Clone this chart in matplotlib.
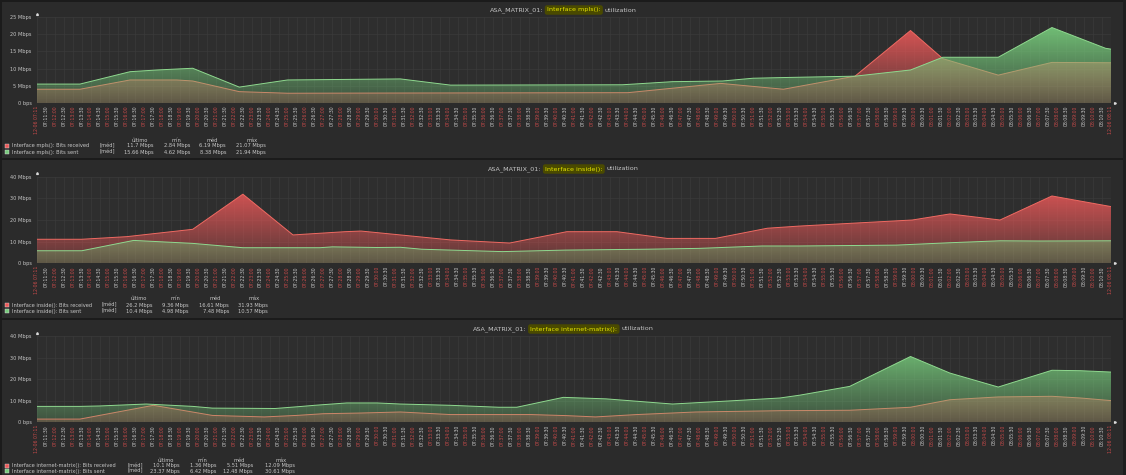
import numpy as np
import matplotlib
matplotlib.use("Agg")
import matplotlib.pyplot as plt
from matplotlib.patches import PathPatch, Rectangle

W, H = 1126, 475

# time in minutes after 12-06 07:11, values in Mbps
mpls_rx_t = [0, 2.4, 5.2, 7.8, 8.7, 11.3, 14, 20, 33, 38.2, 41.7, 45.7, 48.8, 50.6, 53.7, 56.7, 60]
mpls_rx = [4.0, 4.0, 6.7, 6.7, 6.4, 3.3, 2.84, 2.9, 3.0, 5.7, 4.0, 7.8, 21.07, 12.9, 8.1, 11.8, 11.7]
mpls_tx_t = [0, 2.4, 5.2, 6.7, 8.7, 11.3, 14, 20.3, 23.1, 32.7, 35.5, 38.3, 40, 41.7, 45.7, 48.8,
             50.6, 53.7, 56.7, 59.7, 60]
mpls_tx = [5.5, 5.5, 9.1, 9.6, 10.1, 4.62, 6.7, 7.0, 5.2, 5.3, 6.2, 6.4, 7.2, 7.4, 7.8, 9.6,
           13.3, 13.3, 21.94, 15.9, 15.66]

inside_rx_t = [0, 2.5, 5, 8.7, 11.5, 14.3, 17.2, 18.1, 20.3, 23.1, 26.4, 29.6, 32.4, 35.2, 37.9,
               40.8, 42.6, 48.9, 51, 53.8, 56.7, 60]
inside_rx = [11.1, 11.1, 12.3, 15.7, 31.93, 13.1, 14.6, 14.9, 13.1, 10.8, 9.36, 14.6, 14.6, 11.5, 11.5,
             16.2, 17.2, 20.0, 22.8, 20.0, 31.1, 26.2]
inside_tx_t = [0, 2.5, 5.4, 8.7, 11.5, 15.8, 16.5, 19, 20.3, 21.5, 26, 29.5, 34, 37, 40.5, 42.6,
               48, 51, 53.8, 56, 60]
inside_tx = [5.8, 5.8, 10.57, 9.2, 7.2, 7.2, 7.6, 7.3, 7.4, 6.5, 5.4, 6.1, 6.5, 6.9, 8.0, 8.0,
             8.4, 9.5, 10.4, 10.3, 10.4]

inet_rx_t = [0, 2.4, 6.5, 9.8, 11, 12.7, 14.5, 16, 18, 20.3, 23.1, 27.6, 29.6, 31.2, 33.5, 36.8,
             41.5, 45.4, 48.8, 51, 53.7, 56.7, 58.3, 60]
inet_rx = [1.5, 1.5, 7.9, 3.2, 2.9, 2.5, 3.2, 4.0, 4.3, 4.8, 3.6, 3.6, 3.1, 2.5, 3.6, 4.8,
           5.4, 5.6, 7.0, 10.5, 11.8, 12.09, 11.3, 10.1]
inet_tx_t = [0, 2.4, 3.5, 6.1, 8.7, 9.8, 13.3, 14.8, 15.5, 17.3, 19, 20.3, 23.1, 25.8, 26.8, 29.4,
             31.8, 35.5, 38.8, 41.5, 42.6, 45.4, 48.8, 51, 53.7, 56.7, 58.3, 60]
inet_tx = [7.4, 7.4, 7.6, 8.5, 7.4, 6.6, 6.42, 7.4, 7.9, 9.0, 9.0, 8.5, 7.9, 7.0, 7.0, 11.6,
           10.9, 8.5, 10.0, 11.3, 12.6, 16.7, 30.61, 22.9, 16.4, 24.2, 24.0, 23.37]

interfaces = ["mpls()", "inside()", "internet-matrix()"]
stat_headers = ["último", "mín", "méd", "máx"]
mpls_stats = [["11.7 Mbps", "2.84 Mbps", "6.19 Mbps", "21.07 Mbps"],
              ["15.66 Mbps", "4.62 Mbps", "8.38 Mbps", "21.94 Mbps"]]
inside_stats = [["26.2 Mbps", "9.36 Mbps", "16.61 Mbps", "31.93 Mbps"],
                ["10.4 Mbps", "4.98 Mbps", "7.48 Mbps", "10.57 Mbps"]]
inet_stats = [["10.1 Mbps", "1.36 Mbps", "5.51 Mbps", "12.09 Mbps"],
              ["23.37 Mbps", "6.42 Mbps", "12.48 Mbps", "30.61 Mbps"]]

ticks_small = [0, 5, 10, 15, 20, 25]
ticks_big = [0, 10, 20, 30, 40]

# x tick labels every 30 s from 07:11 to 08:11
xticks = [i * 0.5 for i in range(121)]
xlabels = []
for i in range(121):
    tot = 7 * 3600 + 11 * 60 + i * 30
    if i == 0 or i == 120:
        xlabels.append("12-06 %02d:%02d" % (tot // 3600, tot % 3600 // 60))
    else:
        xlabels.append("%02d:%02d:%02d" % (tot // 3600, tot % 3600 // 60, tot % 60))

BG = "#2b2b2b"
TXT = "#c6c6c6"
RED = (0.93, 0.35, 0.35)
GREEN = (0.47, 0.80, 0.49)

fig = plt.figure(figsize=(W / 100, H / 100), dpi=100, facecolor=BG)


def fx(px):
    return px / W


def fy(py):
    return 1 - py / H


def grad_fill(ax, t, v, rgb, ymax, z):
    poly = ax.fill_between(t, 0, v, facecolor="none", edgecolor="none")
    patch = PathPatch(poly.get_paths()[0], transform=ax.transData, facecolor="none", edgecolor="none")
    ax.add_patch(patch)
    n = 256
    img = np.zeros((n, 1, 4))
    img[..., :3] = rgb
    img[:, 0, 3] = np.linspace(0.22, 1.0, n)
    im = ax.imshow(img, extent=[0, 60, 0, ymax], origin="lower", aspect="auto",
                   interpolation="bilinear", zorder=z)
    im.set_clip_path(patch)


def fmt_y(v):
    return "0 bps" if v == 0 else "%d Mbps" % v


def title(py, iface):
    parts = [("ASA_MATRIX_01:", TXT, None), ("Interface %s:" % iface, "#e6e600", "#4a4a00"),
             ("utilization", TXT, None)]
    texts = []
    for s, c, bg in parts:
        t = fig.text(0, fy(py), s, color=c, fontsize=4.6, va="center", ha="left")
        if bg:
            t.set_bbox(dict(facecolor=bg, edgecolor="none", boxstyle="round,pad=0.35"))
        texts.append(t)
    r = fig.canvas.get_renderer()
    widths = [t.get_window_extent(r).width for t in texts]
    gap = 4
    x = W / 2 - (sum(widths) + gap * 2) / 2
    for t, w in zip(texts, widths):
        t.set_x(fx(x))
        x += w + gap


def legend(rows_y, iface, stats, xmed, ends):
    hy, y1, y2 = rows_y
    for e, h in zip(ends, stat_headers):
        fig.text(fx(e - 14), fy(hy), h, color=TXT, fontsize=3.7, ha="center", va="center")
    for yy, name, col, st in [(y1, "Bits received", RED, stats[0]), (y2, "Bits sent", GREEN, stats[1])]:
        fig.patches.append(Rectangle((fx(5), fy(yy + 2)), 4 / W, 4 / H, transform=fig.transFigure,
                                     facecolor=col, edgecolor="#dddddd", lw=0.3))
        fig.text(fx(12), fy(yy), "Interface %s: %s" % (iface, name), color=TXT, fontsize=3.7, va="center")
        fig.text(fx(xmed), fy(yy), "[méd]", color=TXT, fontsize=3.7, va="center")
        for e, s in zip(ends, st):
            fig.text(fx(e), fy(yy), s, color=TXT, fontsize=3.7, ha="right", va="center")


panels = [
    dict(top=17, bot=103, ymax=25, yt=ticks_small, rx=(mpls_rx_t, mpls_rx), tx=(mpls_tx_t, mpls_tx),
         ty=10, leg=(140, 146, 152), stats=mpls_stats, xmed=100, ends=[154, 190, 226, 266]),
    dict(top=176.7, bot=263.3, ymax=40, yt=ticks_big, rx=(inside_rx_t, inside_rx), tx=(inside_tx_t, inside_tx),
         ty=169, leg=(299, 305, 311), stats=inside_stats, xmed=102, ends=[153, 189, 229, 268]),
    dict(top=336.3, bot=422.3, ymax=40, yt=ticks_big, rx=(inet_rx_t, inet_rx), tx=(inet_tx_t, inet_tx),
         ty=329, leg=(460, 465.5, 471), stats=inet_stats, xmed=127, ends=[180, 216, 253, 295]),
]

for iface, p in zip(interfaces, panels):
    ax = fig.add_axes([fx(37), fy(p["bot"]), (1111 - 37) / W, (p["bot"] - p["top"]) / H])
    ax.set_facecolor("#2e2e2e")
    grad_fill(ax, p["rx"][0], p["rx"][1], RED, p["ymax"], 2)
    ax.plot(p["rx"][0], p["rx"][1], color="#f06a62", lw=0.7, zorder=3)
    grad_fill(ax, p["tx"][0], p["tx"][1], GREEN, p["ymax"], 4)
    ax.plot(p["tx"][0], p["tx"][1], color="#8fd98f", lw=0.7, zorder=5)
    ax.set_xlim(0, 60)
    ax.set_ylim(0, p["ymax"])
    ax.set_yticks(p["yt"])
    ax.set_yticklabels([fmt_y(v) for v in p["yt"]])
    ax.set_xticks(xticks)
    ax.set_xticklabels(xlabels, rotation=90, va="top", ha="center")
    for i, lab in enumerate(ax.get_xticklabels()):
        lab.set_color("#c84a4a" if i % 2 == 0 else "#c8c8c8")
    ax.tick_params(axis="x", length=0, pad=2, labelsize=3.3)
    ax.tick_params(axis="y", length=0, pad=4, labelsize=3.6, labelcolor=TXT)
    ax.grid(True, color="#3b3b3b", lw=0.45, zorder=1)
    ax.set_axisbelow(True)
    for s in ax.spines.values():
        s.set_visible(False)
    ax.plot([0], [p["ymax"] * 1.04], marker="^", ms=1.3, color="#dddddd", clip_on=False, zorder=6)
    ax.plot([60.2], [0], marker=">", ms=1.3, color="#dddddd", clip_on=False, zorder=6)
    title(p["ty"], iface)
    legend(p["leg"], iface, p["stats"], p["xmed"], p["ends"])

# panel borders
for yy in [0.5, 159, 319]:
    fig.patches.append(Rectangle((0, fy(yy + 1)), 1, 2 / H, transform=fig.transFigure,
                                 facecolor="#1b1b1b", edgecolor="none"))
fig.patches.append(Rectangle((0, 0), 1.5 / W, 1, transform=fig.transFigure, facecolor="#1b1b1b", edgecolor="none"))
fig.patches.append(Rectangle((fx(1123), 0), 3 / W, 1, transform=fig.transFigure, facecolor="#1e1e1e", edgecolor="none"))

fig.savefig("out.png", dpi=100, facecolor=BG)
